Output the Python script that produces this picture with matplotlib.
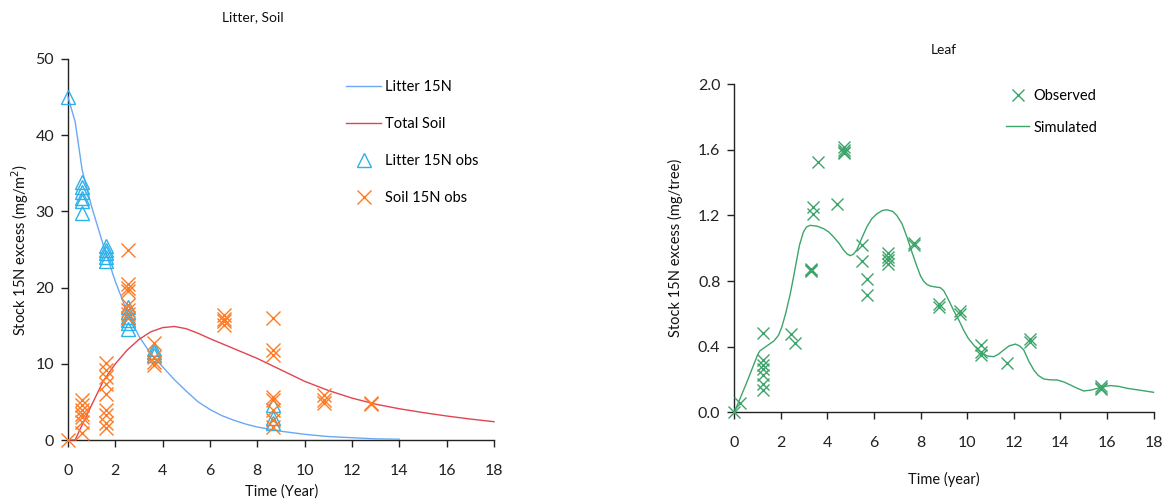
import matplotlib
matplotlib.use("Agg")
import matplotlib.pyplot as plt
from matplotlib.lines import Line2D

plt.rcParams['font.family'] = ['Lato', 'DejaVu Sans']

# ---------------- Left panel data ----------------
litter_obs_x = [0.0] + [0.6]*6 + [1.6]*5 + [2.55]*6 + [3.65]*3 + [8.65]*3
litter_obs_y = [45.0,
                33.8, 33.2, 32.5, 31.8, 31.3, 29.8,
                25.5, 25.0, 24.5, 24.0, 23.5,
                17.5, 16.8, 16.2, 15.8, 15.3, 14.6,
                11.9, 11.5, 11.1,
                4.6, 2.9, 2.2]

soil_obs_x = ([0.0] + [0.6]*7 + [1.6]*9 + [2.55]*8 + [3.65]*4 + [6.6]*4
              + [8.65]*8 + [10.8]*3 + [12.8]*2)
soil_obs_y = [0.0,
              5.2, 4.6, 3.9, 3.4, 3.0, 2.3, 0.9,
              10.1, 9.2, 8.3, 7.4, 6.1, 3.9, 3.3, 2.2, 1.6,
              24.9, 20.5, 20.0, 19.6, 17.7, 17.0, 16.6, 16.0,
              12.7, 10.9, 10.3, 9.9,
              16.4, 15.9, 15.6, 15.1,
              16.0, 11.8, 11.2, 5.7, 5.2, 3.9, 2.6, 1.75,
              5.9, 5.25, 4.8,
              4.9, 4.7]

litter_sim_t = [0, 0.3, 0.6, 1.0, 1.5, 2.0, 2.5, 3.0, 3.5, 4.0, 4.5, 5.0, 5.5,
                6.0, 6.5, 7.0, 7.5, 8.0, 9.0, 10.0, 11.0, 12.0, 13.0, 14.0]
litter_sim_y = [45.0, 41.8, 35.4, 30.6, 25.5, 20.8, 16.8, 13.6, 11.3, 9.6, 7.9,
                6.4, 5.0, 4.0, 3.2, 2.6, 2.1, 1.7, 1.15, 0.75, 0.45, 0.3, 0.15, 0.1]

soil_sim_t = [0, 0.3, 0.6, 1.0, 1.5, 2.0, 2.5, 3.0, 3.5, 4.0, 4.5, 5.0, 5.5,
              6.0, 7.0, 8.0, 9.0, 10.0, 11.0, 12.0, 13.0, 14.0, 15.0, 16.0,
              17.0, 18.0]
soil_sim_y = [0.0, 0.0, 2.0, 4.6, 7.8, 10.0, 11.8, 13.2, 14.2, 14.75, 14.9,
              14.6, 14.0, 13.3, 12.0, 10.7, 9.2, 7.7, 6.5, 5.5, 4.7, 4.1, 3.6,
              3.15, 2.75, 2.4]

# ---------------- Right panel data ----------------
leaf_obs_x = ([0.0, 0.25] + [1.22]*7 + [2.43, 2.61] + [3.3]*3 + [3.38]*2
              + [3.61, 4.4] + [4.69]*4 + [5.48]*2 + [5.69]*2 + [6.62]*4
              + [7.7]*2 + [8.78]*2 + [9.68]*2 + [10.6]*3 + [11.69]
              + [12.68]*2 + [15.73]*3)
leaf_obs_y = ([0.0, 0.055] + [0.485, 0.32, 0.29, 0.265, 0.225, 0.175, 0.135]
              + [0.48, 0.42] + [0.86, 0.87, 0.875] + [1.25, 1.21]
              + [1.525, 1.27] + [1.62, 1.60, 1.59, 1.58] + [1.02, 0.92]
              + [0.81, 0.715] + [0.97, 0.95, 0.93, 0.905] + [1.02, 1.03]
              + [0.64, 0.66] + [0.60, 0.62] + [0.41, 0.37, 0.35] + [0.30]
              + [0.43, 0.445] + [0.14, 0.15, 0.16])

leaf_sim_t = [0, 0.5, 1.0, 1.1, 1.4, 1.7, 1.9, 2.04, 2.2, 2.4, 2.55, 2.68, 2.8,
              2.97, 3.1, 3.26, 3.55, 3.83, 4.05, 4.26, 4.5, 4.69, 4.85, 4.98,
              5.12, 5.26, 5.5, 5.69, 5.9, 6.12, 6.35, 6.55, 6.8, 6.98, 7.2,
              7.41, 7.62, 7.84, 8.0, 8.13, 8.27, 8.41, 8.6, 8.85, 9.0, 9.13,
              9.27, 9.42, 9.65, 9.85, 10.05, 10.28, 10.55, 10.86, 11.14, 11.35,
              11.57, 11.8, 12.07, 12.25, 12.43, 12.65, 12.86, 13.05, 13.29,
              13.55, 13.87, 14.15, 14.44, 14.7, 15.0, 15.3, 15.59, 15.9, 16.16,
              16.5, 16.88, 17.4, 18.0]
leaf_sim_y = [0.0, 0.17, 0.35, 0.375, 0.405, 0.435, 0.47, 0.52, 0.6, 0.72,
              0.83, 0.93, 1.02, 1.10, 1.13, 1.14, 1.135, 1.12, 1.1, 1.07, 1.03,
              0.99, 0.965, 0.955, 0.965, 0.99, 1.07, 1.13, 1.18, 1.21, 1.23,
              1.235, 1.225, 1.2, 1.15, 1.07, 0.98, 0.89, 0.83, 0.80, 0.78, 0.77,
              0.765, 0.76, 0.74, 0.705, 0.665, 0.62, 0.56, 0.50, 0.45, 0.41,
              0.37, 0.343, 0.339, 0.355, 0.38, 0.405, 0.416, 0.405, 0.38, 0.31,
              0.258, 0.225, 0.203, 0.198, 0.197, 0.185, 0.166, 0.148, 0.13,
              0.135, 0.146, 0.158, 0.163, 0.158, 0.146, 0.135, 0.122]

x_ticks = list(range(0, 19, 2))
left_yticks = [0, 10, 20, 30, 40, 50]
right_yticks = [0.0, 0.4, 0.8, 1.2, 1.6, 2.0]

c_litter_line = '#6AA8F7'
c_soil_line = '#E2444F'
c_litter_obs = '#2CB1E8'
c_soil_obs = '#FF7A22'
c_leaf = '#3DA56A'

W, H = 1169, 504
fig = plt.figure(figsize=(W/100, H/100), dpi=100)

def fx(px):
    return px / W

def fy(py):
    return 1 - py / H

ax1 = fig.add_axes([fx(68), fy(440), fx(494) - fx(68), fy(59) - fy(440)])
ax2 = fig.add_axes([fx(734.3), fy(412.3), fx(1153.5) - fx(734.3), fy(84.3) - fy(412.3)])

for ax in (ax1, ax2):
    for s in ('top', 'right'):
        ax.spines[s].set_visible(False)
    for s in ('left', 'bottom'):
        ax.spines[s].set_linewidth(1.0)
        ax.spines[s].set_color('#222222')
    ax.tick_params(axis='both', direction='out', length=5, width=1.0,
                   labelsize=11.5, colors='#222222', labelcolor='#222222')
    ax.tick_params(axis='x', pad=12)
    ax.set_xlim(0, 18)
    ax.set_xticks(x_ticks)
    ax.set_xticklabels([str(t) for t in x_ticks])

# Left panel
ax1.plot(litter_sim_t, litter_sim_y, color=c_litter_line, lw=1.0, label='Litter 15N',
         clip_on=False, zorder=3)
ax1.plot(soil_sim_t, soil_sim_y, color=c_soil_line, lw=1.0, label='Total Soil',
         clip_on=False, zorder=3)
ax1.plot(litter_obs_x, litter_obs_y, linestyle='none', marker='^', ms=10,
         mfc='none', mec=c_litter_obs, mew=1.0, label='Litter 15N obs',
         clip_on=False, zorder=4)
ax1.plot(soil_obs_x, soil_obs_y, linestyle='none', marker='x', ms=10,
         mec=c_soil_obs, mew=1.0, label='Soil 15N obs', clip_on=False, zorder=4)
ax1.set_ylim(0, 50)
ax1.set_yticks(left_yticks)
ax1.set_yticklabels([str(v) for v in left_yticks])
ax1.tick_params(axis='y', pad=5)

handles1 = [
    Line2D([], [], color=c_litter_line, lw=1.0),
    Line2D([], [], color=c_soil_line, lw=1.0),
    Line2D([], [], linestyle='none', marker='^', ms=10, mfc='none',
           mec=c_litter_obs, mew=1.0),
    Line2D([], [], linestyle='none', marker='x', ms=10, mec=c_soil_obs, mew=1.0),
]
fig.legend(handles1, ['Litter 15N', 'Total Soil', 'Litter 15N obs', 'Soil 15N obs'],
           loc='upper left', bbox_to_anchor=(fx(346), fy(80)),
           frameon=False, fontsize=10.5, labelspacing=1.58, handlelength=2.4,
           handletextpad=0.3, borderpad=0, borderaxespad=0)

fig.text(fx(253), fy(17), 'Litter, Soil', ha='center', va='center', fontsize=10,
         color='#111111')
fig.text(fx(20), fy(249.5), 'Stock 15N excess (mg/m$^{2}$)', ha='center',
         va='center', rotation=90, fontsize=10.5, color='#111111')
fig.text(fx(282), fy(492), 'Time (Year)', ha='center', va='center', fontsize=10.5,
         color='#111111')

# Right panel
ax2.plot(leaf_obs_x, leaf_obs_y, linestyle='none', marker='x', ms=8,
         mec=c_leaf, mew=1.0, label='Observed', clip_on=False, zorder=4)
ax2.plot(leaf_sim_t, leaf_sim_y, color=c_leaf, lw=1.0, label='Simulated',
         clip_on=False, zorder=3)
ax2.set_ylim(0, 2.0)
ax2.set_yticks(right_yticks)
ax2.set_yticklabels([f'{v:.1f}' for v in right_yticks])
ax2.tick_params(axis='y', pad=5)

handles2 = [
    Line2D([], [], linestyle='none', marker='x', ms=8, mec=c_leaf, mew=1.0),
    Line2D([], [], color=c_leaf, lw=1.0),
]
fig.legend(handles2, ['Observed', 'Simulated'], loc='upper left',
           bbox_to_anchor=(fx(1006), fy(89)), frameon=False, fontsize=10.5,
           labelspacing=1.2, handlelength=1.6, handletextpad=0.3,
           borderpad=0, borderaxespad=0)

fig.text(fx(944), fy(50), 'Leaf', ha='center', va='center', fontsize=10,
         color='#111111')
fig.text(fx(675), fy(248), 'Stock 15N excess (mg/tree)', ha='center',
         va='center', rotation=90, fontsize=10.5, color='#111111')
fig.text(fx(944), fy(479), 'Time (year)', ha='center', va='center',
         fontsize=10.5, color='#111111')

fig.savefig('out.png', dpi=100)
